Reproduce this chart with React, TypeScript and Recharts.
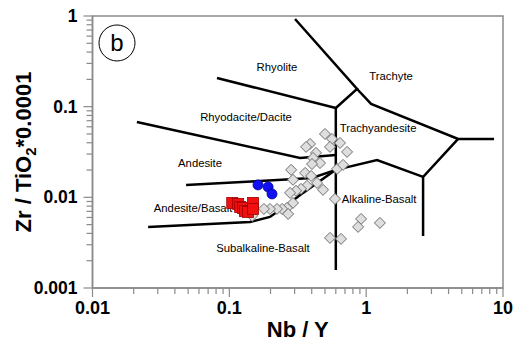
import React from 'react';
import { ScatterChart, Scatter, XAxis, YAxis, ReferenceArea } from 'recharts';

const FONT = '"Liberation Sans", Arial, Helvetica, sans-serif';
const AXIS = '#8a8a8a';

// Axis ticks (log scale)
const xTicks = [0.01, 0.02, 0.03, 0.04, 0.05, 0.06, 0.07, 0.08, 0.09, 0.1, 0.2, 0.3, 0.4, 0.5, 0.6, 0.7, 0.8, 0.9, 1, 2, 3, 4, 5, 6, 7, 8, 9, 10];
const yTicks = [0.001, 0.002, 0.003, 0.004, 0.005, 0.006, 0.007, 0.008, 0.009, 0.01, 0.02, 0.03, 0.04, 0.05, 0.06, 0.07, 0.08, 0.09, 0.1, 0.2, 0.3, 0.4, 0.5, 0.6, 0.7, 0.8, 0.9, 1];
const xMajor = [0.01, 0.1, 1, 10];
const xMajorLabels = ['0.01', '0.1', '1', '10'];
const yMajor = [0.001, 0.01, 0.1, 1];
const yMajorLabels = ['0.001', '0.01', '0.1', '1'];

// Field boundary lines (Nb/Y, Zr/TiO2*0.0001)
const lineRhyTop = [{ x: 0.0813, y: 0.207 }, { x: 0.6, y: 0.0968 }];
const lineVertical = [{ x: 0.6, y: 0.0968 }, { x: 0.6, y: 0.00158 }];
const lineTrachyte = [{ x: 0.302, y: 0.927 }, { x: 0.858, y: 0.1567 }, { x: 0.6, y: 0.0968 }];
const lineTrachyteLow = [{ x: 0.858, y: 0.1567 }, { x: 1.086, y: 0.1071 }, { x: 4.7, y: 0.0441 }, { x: 8.6, y: 0.0441 }];
const lineAlk = [{ x: 4.7, y: 0.0441 }, { x: 2.606, y: 0.0168 }, { x: 2.606, y: 0.00375 }];
const lineTrAnAlk = [{ x: 0.6, y: 0.0201 }, { x: 1.201, y: 0.0258 }, { x: 2.606, y: 0.0168 }];
const lineRhyAnd = [{ x: 0.0211, y: 0.0678 }, { x: 0.329, y: 0.0272 }, { x: 0.6, y: 0.0293 }];
const lineAndAB = [{ x: 0.0483, y: 0.0137 }, { x: 0.1676, y: 0.01517 }, { x: 0.4023, y: 0.01636 }, { x: 0.6, y: 0.0201 }];
const lineABSub = [{ x: 0.0255, y: 0.00472 }, { x: 0.1416, y: 0.00535 }, { x: 0.198, y: 0.00608 }, { x: 0.264, y: 0.00824 }, { x: 0.346, y: 0.0112 }, { x: 0.6, y: 0.0201 }];
const boundaryLines = [lineRhyTop, lineVertical, lineTrachyte, lineTrachyteLow, lineAlk, lineTrAnAlk, lineRhyAnd, lineAndAB, lineABSub];

// Field names
const fieldLabels = [
  { x: 0.223, y: 0.274, name: 'Rhyolite' },
  { x: 1.52, y: 0.218, name: 'Trachyte' },
  { x: 0.1324, y: 0.077, name: 'Rhyodacite/Dacite' },
  { x: 1.222, y: 0.0582, name: 'Trachyandesite' },
  { x: 0.0611, y: 0.0239, name: 'Andesite' },
  { x: 0.0543, y: 0.00764, name: 'Andesite/Basalt' },
  { x: 0.176, y: 0.00277, name: 'Subalkaline-Basalt' },
  { x: 1.242, y: 0.0096, name: 'Alkaline-Basalt' },
];
const panelLabel = [{ x: 0.0151, y: 0.504, name: 'b' }];

// Samples
const greySamples = [
  { x: 0.5, y: 0.05 }, { x: 0.563, y: 0.0441 }, { x: 0.644, y: 0.0398 }, { x: 0.725, y: 0.0317 },
  { x: 0.544, y: 0.036 }, { x: 0.389, y: 0.0388 }, { x: 0.364, y: 0.036 }, { x: 0.43, y: 0.0309 },
  { x: 0.409, y: 0.0272 }, { x: 0.46, y: 0.0239 }, { x: 0.402, y: 0.0233 }, { x: 0.283, y: 0.0201 },
  { x: 0.358, y: 0.0186 }, { x: 0.396, y: 0.0172 }, { x: 0.292, y: 0.0156 }, { x: 0.613, y: 0.0206 },
  { x: 0.678, y: 0.0228 }, { x: 0.438, y: 0.0144 }, { x: 0.484, y: 0.0121 }, { x: 0.37, y: 0.0134 },
  { x: 0.334, y: 0.0124 }, { x: 0.307, y: 0.0118 }, { x: 0.278, y: 0.0112 }, { x: 0.292, y: 0.00868 },
  { x: 0.264, y: 0.00764 }, { x: 0.243, y: 0.00745 }, { x: 0.223, y: 0.00745 }, { x: 0.198, y: 0.00745 },
  { x: 0.179, y: 0.00745 }, { x: 0.269, y: 0.00656 }, { x: 0.147, y: 0.00624 }, { x: 0.592, y: 0.0096 },
  { x: 0.918, y: 0.00578 }, { x: 0.873, y: 0.00472 }, { x: 1.26, y: 0.00522 }, { x: 0.544, y: 0.00357 },
  { x: 0.655, y: 0.00348 },
];
const redSamples = [
  { x: 0.105, y: 0.00868 }, { x: 0.116, y: 0.00846 }, { x: 0.12, y: 0.00784 }, { x: 0.126, y: 0.00764 },
  { x: 0.13, y: 0.00708 }, { x: 0.137, y: 0.0069 }, { x: 0.149, y: 0.00868 }, { x: 0.149, y: 0.00745 },
];
const blueSamples = [{ x: 0.162, y: 0.0137 }, { x: 0.192, y: 0.013 }, { x: 0.205, y: 0.0109 }];

const majorIndex = (v: number, arr: number[]) => arr.findIndex((m) => Math.abs(v - m) / m < 1e-6);

const XTick = (p: any) => {
  const { x, y, payload } = p;
  const i = majorIndex(payload.value, xMajor);
  return (
    <g>
      <line x1={x} y1={y} x2={x} y2={y + (i >= 0 ? 9 : 6)} stroke={AXIS} strokeWidth={1.2} />
      {i >= 0 && (
        <text x={x} y={y + 26} textAnchor="middle" fontFamily={FONT} fontWeight="bold" fontSize={18} fill="#000">
          {xMajorLabels[i]}
        </text>
      )}
    </g>
  );
};

const YTick = (p: any) => {
  const { x, y, payload } = p;
  const i = majorIndex(payload.value, yMajor);
  return (
    <g>
      <line x1={x} y1={y} x2={x - (i >= 0 ? 9 : 6)} y2={y} stroke={AXIS} strokeWidth={1.2} />
      {i >= 0 && (
        <text x={x - 15} y={y + 6} textAnchor="end" fontFamily={FONT} fontWeight="bold" fontSize={17.5} fill="#000">
          {yMajorLabels[i]}
        </text>
      )}
    </g>
  );
};

const XTitle = (p: any) => {
  const vb = p.viewBox || { x: 92.5, y: 288, width: 410.5 };
  return (
    <text x={vb.x + vb.width / 2} y={vb.y + 49} textAnchor="middle" fontFamily={FONT} fontWeight="bold" fontSize={22} fill="#000">
      Nb / Y
    </text>
  );
};

const YTitle = (p: any) => {
  const vb = p.viewBox || { x: 0, y: 16, height: 272 };
  const cx = 31;
  const cy = vb.y + vb.height / 2;
  return (
    <text x={cx} y={cy} transform={`rotate(-90 ${cx} ${cy})`} textAnchor="middle" fontFamily={FONT} fontWeight="bold" fontSize={22} fill="#000">
      <tspan>Zr / TiO</tspan>
      <tspan dy={5} fontSize={15}>2</tspan>
      <tspan dy={-5}>*0.0001</tspan>
    </text>
  );
};

const Nothing = () => <g />;

const FieldText = (p: any) => (
  <text x={p.cx} y={p.cy + 4} textAnchor="middle" fontFamily={FONT} fontSize={11.3} fill="#000">
    {p.payload.name}
  </text>
);

const PanelMark = (p: any) => (
  <g>
    <circle cx={p.cx} cy={p.cy} r={18} fill="#fff" stroke="#000" strokeWidth={1} />
    <text x={p.cx} y={p.cy + 8} textAnchor="middle" fontFamily={FONT} fontSize={24} fill="#000">
      {p.payload.name}
    </text>
  </g>
);

const Diamond = (p: any) => {
  const s = 5.5;
  return (
    <path
      d={`M${p.cx},${p.cy - s}L${p.cx + s},${p.cy}L${p.cx},${p.cy + s}L${p.cx - s},${p.cy}Z`}
      fill="#dedede"
      stroke="#6e6e6e"
      strokeWidth={1}
    />
  );
};

const Square = (p: any) => (
  <rect x={p.cx - 5.5} y={p.cy - 5.5} width={11} height={11} fill="#f01010" stroke="#a00000" strokeWidth={0.8} />
);

const Dot = (p: any) => <circle cx={p.cx} cy={p.cy} r={5} fill="#1010f0" stroke="#0000a0" strokeWidth={0.8} />;

export default function App() {
  return (
    <div style={{ position: 'absolute', left: 0, top: 0, background: '#fff' }}>
      <ScatterChart width={514} height={343} margin={{ top: 16, right: 11, bottom: 0, left: 0 }}>
        <XAxis
          type="number"
          dataKey="x"
          scale="log"
          domain={[0.01, 10]}
          ticks={xTicks}
          interval={0}
          allowDataOverflow
          height={55}
          tickSize={0}
          tickMargin={0}
          tickLine={false}
          axisLine={{ stroke: AXIS, strokeWidth: 1.5 }}
          tick={(p: any) => <XTick {...p} />}
          label={{ content: (p: any) => <XTitle {...p} /> }}
        />
        <YAxis
          type="number"
          dataKey="y"
          scale="log"
          domain={[0.001, 1]}
          ticks={yTicks}
          interval={0}
          allowDataOverflow
          width={92.5}
          tickSize={0}
          tickMargin={0}
          tickLine={false}
          axisLine={{ stroke: AXIS, strokeWidth: 1.5 }}
          tick={(p: any) => <YTick {...p} />}
          label={{ content: (p: any) => <YTitle {...p} /> }}
        />
        <ReferenceArea x1={0.01} x2={10} y1={0.001} y2={1} fill="none" fillOpacity={0} stroke={AXIS} strokeWidth={1.5} ifOverflow="visible" />
        {boundaryLines.map((d, i) => (
          <Scatter
            key={`l${i}`}
            data={d}
            line={{ stroke: '#000', strokeWidth: 2.5 }}
            lineType="joint"
            shape={Nothing}
            isAnimationActive={false}
          />
        ))}
        <Scatter data={fieldLabels} shape={FieldText} isAnimationActive={false} />
        <Scatter data={panelLabel} shape={PanelMark} isAnimationActive={false} />
        <Scatter data={greySamples} shape={Diamond} isAnimationActive={false} />
        <Scatter data={redSamples} shape={Square} isAnimationActive={false} />
        <Scatter data={blueSamples} shape={Dot} isAnimationActive={false} />
      </ScatterChart>
    </div>
  );
}
